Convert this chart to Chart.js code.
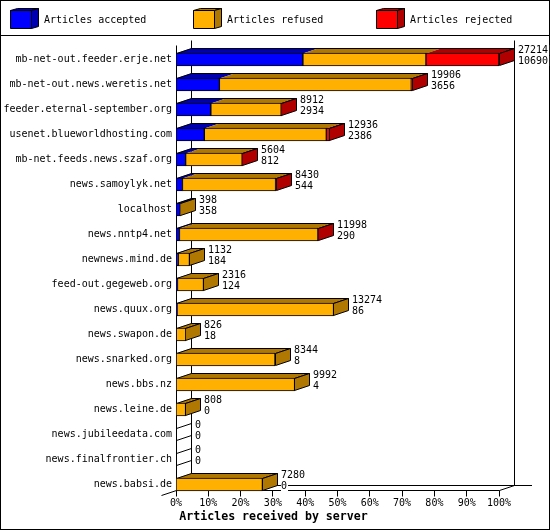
<!DOCTYPE html>
<html>
<head>
<meta charset="utf-8">
<style>
    html, body { margin: 0; padding: 0; background: #fff; }
    canvas { display: block; }
</style>
<script src="https://cdn.jsdelivr.net/npm/chart.js@4"></script>
</head>
<body>
<canvas id="serverChart" width="550" height="530"></canvas>
<script>
const categories = [
    'mb-net-out.feeder.erje.net', 'mb-net-out.news.weretis.net', 'feeder.eternal-september.org',
    'usenet.blueworldhosting.com', 'mb-net.feeds.news.szaf.org', 'news.samoylyk.net',
    'localhost', 'news.nntp4.net', 'newnews.mind.de', 'feed-out.gegeweb.org',
    'news.quux.org', 'news.swapon.de', 'news.snarked.org', 'news.bbs.nz',
    'news.leine.de', 'news.jubileedata.com', 'news.finalfrontier.ch', 'news.babsi.de'
];
const accepted = [10690, 3656, 2934, 2386, 812, 544, 358, 290, 184, 124, 86, 18, 8, 4, 0, 0, 0, 0];
const refused = [10370, 16170, 5928, 10280, 4762, 7846, 40, 11668, 948, 2192, 13188, 808, 8336, 9988, 808, 0, 0, 7280];
const rejected = [6154, 80, 50, 270, 30, 40, 0, 40, 0, 0, 0, 0, 0, 0, 0, 0, 0, 0];
const totals = [27214, 19906, 8912, 12936, 5604, 8430, 398, 11998, 1132, 2316, 13274, 826, 8344, 9992, 808, 0, 0, 7280];
const tickPercents = [0, 10, 20, 30, 40, 50, 60, 70, 80, 90, 100];
const seriesNames = ['Articles accepted', 'Articles refused', 'Articles rejected'];
const axisTitle = 'Articles received by server';

const frontColors = ['#0000ff', '#ffb000', '#ff0000'];
const darkColors = ['#0000b0', '#b07800', '#b00000'];
const legendX = [10, 193, 376];
const seriesValues = [accepted, refused, rejected];
const DX = 15, DY = 5;
const MONO = '"DejaVu Sans Mono", monospace';

const crisp = v => Math.floor(v) + 0.5;

function line(ctx, x1, y1, x2, y2) {
    ctx.beginPath();
    ctx.moveTo(x1, y1);
    ctx.lineTo(x2, y2);
    ctx.stroke();
}

function poly(ctx, pts, fill, stroke) {
    ctx.beginPath();
    pts.forEach((p, i) => i ? ctx.lineTo(p[0], p[1]) : ctx.moveTo(p[0], p[1]));
    ctx.closePath();
    if (fill) { ctx.fillStyle = fill; ctx.fill(); }
    if (stroke) { ctx.strokeStyle = '#000'; ctx.stroke(); }
}

// frame, legend, the 3d floor and walls, and the bar tops and sides
const depthPlugin = {
    id: 'depth',
    beforeDatasetsDraw(chart) {
        const { ctx, scales: { x, y } } = chart;
        const left = crisp(x.getPixelForValue(0));
        const right = crisp(x.getPixelForValue(totals[0]));
        const floorY = crisp(y.getPixelForValue(categories.length - 1) + 6);
        const topY = 40.5;

        ctx.save();
        ctx.lineWidth = 1;
        ctx.strokeStyle = '#000';
        ctx.strokeRect(0.5, 0.5, 549, 529);
        line(ctx, 0, 35.5, 550, 35.5);

        seriesNames.forEach((name, i) => {
            const lx = legendX[i] + 0.5;
            poly(ctx, [[lx, 10.5], [lx + 7, 8.5], [lx + 28, 8.5], [lx + 21, 10.5]], darkColors[i], true);
            poly(ctx, [[lx + 21, 10.5], [lx + 28, 8.5], [lx + 28, 26.5], [lx + 21, 28.5]], darkColors[i], true);
            poly(ctx, [[lx, 10.5], [lx + 21, 10.5], [lx + 21, 28.5], [lx, 28.5]], frontColors[i], true);
            ctx.fillStyle = '#000';
            ctx.font = '10px ' + MONO;
            ctx.textAlign = 'left';
            ctx.textBaseline = 'middle';
            ctx.fillText(name, legendX[i] + 34, 20);
        });

        // walls and floor
        line(ctx, left, topY + DY, left, floorY);
        line(ctx, left + DX, topY, left + DX, floorY - DY);
        line(ctx, right + DX, topY, right + DX, floorY - DY);
        line(ctx, left + DX, floorY - DY, 532, floorY - DY);
        line(ctx, left, floorY, right, floorY);
        line(ctx, left - DX, floorY + DY, left, floorY);
        line(ctx, right, floorY, right + DX, floorY - DY);
        x.ticks.forEach(t => {
            const px = crisp(x.getPixelForValue(t.value));
            line(ctx, px, floorY, px, floorY + 6);
        });

        categories.forEach((cat, i) => {
            const cy = y.getPixelForValue(i);
            const top = crisp(cy - 6);
            const bottom = crisp(cy + 6);
            if (totals[i] === 0) {
                line(ctx, left, top, left + DX, top - DY);
                line(ctx, left, bottom, left + DX, bottom - DY);
                return;
            }
            let sum = 0;
            let last = 0;
            seriesValues.forEach((vals, s) => {
                if (!vals[i]) return;
                const a = x.getPixelForValue(sum);
                const b = x.getPixelForValue(sum + vals[i]);
                poly(ctx, [[a, top], [a + DX, top - DY], [b + DX, top - DY], [b, top]], darkColors[s], false);
                sum += vals[i];
                last = s;
            });
            const end = crisp(x.getPixelForValue(sum));
            poly(ctx, [[left, top], [left + DX, top - DY], [end + DX, top - DY], [end, top]], null, true);
            poly(ctx, [[end, top], [end + DX, top - DY], [end + DX, bottom - DY], [end, bottom]], darkColors[last], true);
        });
        ctx.restore();
    },
    afterDatasetsDraw(chart) {
        const { ctx, scales: { x, y } } = chart;
        ctx.save();
        ctx.font = '10px ' + MONO;
        ctx.textAlign = 'left';
        ctx.textBaseline = 'middle';
        categories.forEach((cat, i) => {
            const cy = y.getPixelForValue(i);
            const tx = crisp(x.getPixelForValue(totals[i])) + DX + 3.5;
            [[totals[i], cy - 9.5], [accepted[i], cy + 1.5]].forEach(([val, ly]) => {
                const s = String(val);
                ctx.fillStyle = '#fff';
                ctx.fillRect(tx, ly - 5, ctx.measureText(s).width + 1, 10);
                ctx.fillStyle = '#000';
                ctx.fillText(s, tx, ly);
            });
        });
        // centred under the whole picture, not under the plot
        ctx.font = 'bold 11.6px ' + MONO;
        ctx.textAlign = 'center';
        ctx.fillStyle = '#000';
        ctx.fillText(axisTitle, 273.5, 517);
        ctx.restore();
    }
};

new Chart(document.getElementById('serverChart').getContext('2d'), {
    type: 'bar',
    data: {
        labels: categories,
        datasets: seriesNames.map((name, i) => ({
            label: name,
            data: seriesValues[i],
            backgroundColor: frontColors[i],
            borderColor: '#000',
            borderWidth: 1,
            borderSkipped: false,
            barThickness: 13
        }))
    },
    options: {
        indexAxis: 'y',
        responsive: false,
        animation: false,
        devicePixelRatio: 1,
        layout: { padding: { top: 47, right: 51, bottom: 20, left: 0 } },
        scales: {
            x: {
                stacked: true,
                min: 0,
                max: totals[0],
                grid: { display: false, drawTicks: false },
                border: { display: false },
                afterBuildTicks: axis => {
                    axis.ticks = tickPercents.map(p => ({ value: totals[0] * p / 100 }));
                },
                afterFit: axis => { axis.height = 13; },
                ticks: {
                    autoSkip: false,
                    maxRotation: 0,
                    padding: 0,
                    color: '#000',
                    font: { family: MONO, size: 10 },
                    callback: (value, i) => tickPercents[i] + '%'
                }
            },
            y: {
                stacked: true,
                grid: { display: false, drawTicks: false },
                border: { display: false },
                afterFit: axis => { axis.width = 176; },
                ticks: {
                    autoSkip: false,
                    padding: 4,
                    color: '#000',
                    font: { family: MONO, size: 10 }
                }
            }
        },
        plugins: {
            legend: { display: false },
            tooltip: { enabled: false }
        }
    },
    plugins: [depthPlugin]
});
</script>
</body>
</html>
